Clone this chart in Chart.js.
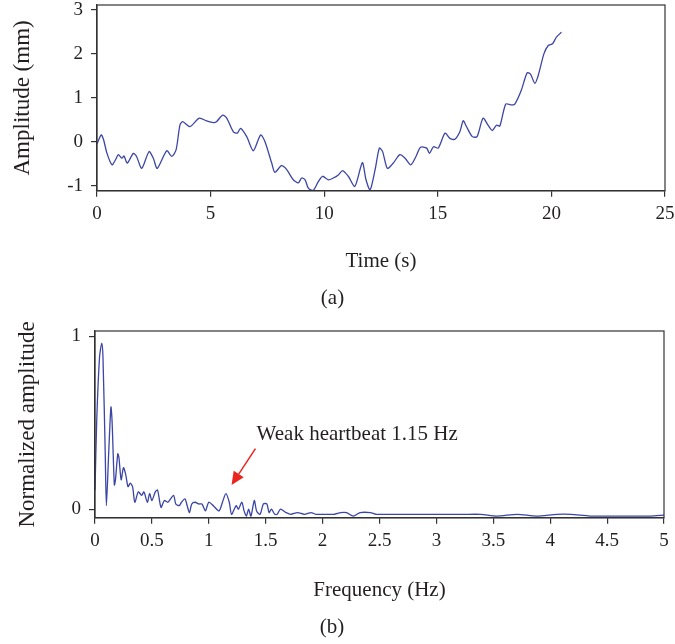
<!DOCTYPE html>
<html>
<head>
<meta charset="utf-8">
<script src="https://cdn.jsdelivr.net/npm/chart.js@4.4.0/dist/chart.umd.min.js"></script>
<style>
  html, body { margin: 0; padding: 0; background: #fff; }
  canvas { display: block; }
</style>
</head>
<body>
<canvas id="timeChart" width="675" height="316"></canvas>
<canvas id="freqChart" width="675" height="328"></canvas>
<script>
// (a) displacement over time
var timeS = [0, 0.19, 0.29, 0.44, 0.66, 0.81, 0.94, 1.09, 1.19, 1.33, 1.60, 1.74, 1.97, 2.29, 2.48, 2.65,
  3.07, 3.29, 3.48, 3.65, 3.77, 4.09, 4.50, 4.82, 5.12, 5.26, 5.53, 5.71, 6.00, 6.18, 6.32, 6.59,
  6.88, 7.20, 7.39, 7.69, 7.83, 8.12, 8.35, 8.64, 8.86, 9.01, 9.16, 9.30, 9.52, 9.74, 9.93, 10.18,
  10.40, 10.62, 10.81, 11.06, 11.35, 11.68, 11.84, 12.02, 12.24, 12.43, 12.57, 12.78, 13.04, 13.33,
  13.56, 13.81, 14.04, 14.24, 14.51, 14.63, 14.81, 15.02, 15.32, 15.53, 15.75, 15.97, 16.12, 16.26,
  16.52, 16.73, 16.99, 17.21, 17.40, 17.58, 17.73, 17.99, 18.24, 18.39, 18.68, 18.93, 19.08, 19.27,
  19.42, 19.67, 19.86, 20.05, 20.22, 20.44];
var amplitudeMm = [-0.04, 0.16, 0.05, -0.26, -0.52, -0.41, -0.29, -0.37, -0.32, -0.48, -0.26, -0.33, -0.60, -0.22, -0.37, -0.60,
  -0.20, -0.33, -0.18, 0.38, 0.46, 0.35, 0.54, 0.48, 0.44, 0.46, 0.61, 0.54, 0.23, 0.20, 0.31, 0.12,
  -0.20, 0.16, 0.01, -0.48, -0.69, -0.54, -0.63, -0.86, -0.93, -0.82, -0.86, -1.05, -1.10, -0.90, -0.78, -0.86,
  -0.82, -0.75, -0.65, -0.78, -1.01, -0.47, -0.86, -1.09, -0.63, -0.14, -0.22, -0.60, -0.48, -0.29,
  -0.37, -0.52, -0.33, -0.12, -0.14, -0.26, -0.11, -0.14, 0.20, 0.08, 0.06, 0.23, 0.48, 0.35,
  0.12, 0.12, 0.54, 0.38, 0.26, 0.38, 0.36, 0.86, 0.84, 0.86, 1.18, 1.57, 1.54, 1.33,
  1.51, 2.00, 2.19, 2.23, 2.38, 2.49];

// (b) spectrum
var freqHz = [0, 0.015, 0.04, 0.06, 0.07, 0.09, 0.10, 0.12, 0.14, 0.15, 0.17, 0.18, 0.20, 0.21, 0.23, 0.25,
  0.27, 0.29, 0.31, 0.33, 0.35, 0.38, 0.41, 0.43, 0.46, 0.48, 0.50, 0.53, 0.55, 0.58, 0.61, 0.64,
  0.69, 0.71, 0.74, 0.76, 0.79, 0.81, 0.83, 0.85, 0.88, 0.91, 0.94, 0.97, 1.00, 1.04, 1.09, 1.12,
  1.15, 1.18, 1.20, 1.24, 1.26, 1.29, 1.31, 1.33, 1.35, 1.37, 1.40, 1.42, 1.45, 1.48, 1.51, 1.53,
  1.55, 1.58, 1.60, 1.63, 1.68, 1.72, 1.78, 1.84, 1.90, 1.94, 1.99, 2.03, 2.10, 2.16, 2.21, 2.27,
  2.33, 2.42, 2.47, 2.59, 2.71, 2.83, 2.94, 3.06, 3.24, 3.39, 3.53, 3.71, 3.88, 4.06, 4.18, 4.35,
  4.53, 4.70, 4.88, 5.0];
var normAmp = [0.11, 0.51, 0.88, 0.96, 0.88, 0.32, 0.02, 0.32, 0.59, 0.51, 0.14, 0.17, 0.32, 0.30, 0.17, 0.24,
  0.20, 0.13, 0.15, 0.13, 0.04, 0.10, 0.08, 0.10, 0.04, 0.09, 0.05, 0.10, 0.11, 0.01, 0.05, 0.04,
  0.08, 0.03, 0.02, 0.04, 0.06, 0.02, -0.02, 0.03, 0.04, 0.03, 0.03, -0.01, 0.04, 0.02, -0.01, 0.04,
  0.09, 0.04, -0.03, 0.02, 0.00, 0.04, -0.01, -0.04, 0.00, -0.04, 0.05, -0.01, -0.03, 0.03, 0.03, -0.02,
  0.00, -0.03, -0.03, 0.00, -0.02, -0.03, -0.02, -0.03, -0.02, -0.03, -0.03, -0.03, -0.03, -0.02, -0.02, -0.04,
  -0.02, -0.02, -0.03, -0.03, -0.03, -0.03, -0.03, -0.03, -0.03, -0.03, -0.04, -0.03, -0.04, -0.03, -0.03, -0.04,
  -0.04, -0.04, -0.04, -0.035];

// annotation (data coords)
var noteText = "Weak heartbeat 1.15 Hz";
var noteAt = { x: 1.42, y: 0.43 };
var arrowFrom = { x: 1.41, y: 0.35 };
var arrowTo = { x: 1.20, y: 0.14 };

var INK = "#231f20";
var LINE = "#3b45a6";
Chart.defaults.font.family = "'Liberation Serif', 'Times New Roman', serif";
Chart.defaults.color = INK;

function toPoints(xs, ys) {
	var pts = [];
	for (var i = 0; i < xs.length; i++) pts.push({ x: xs[i], y: ys[i] });
	return pts;
}

// box round the plot area
var frameBox = {
	id: "frameBox",
	afterDatasetsDraw: function(chart) {
		var a = chart.chartArea, c = chart.ctx;
		c.save();
		c.strokeStyle = "#333";
		c.lineWidth = 1.2;
		c.strokeRect(a.left, a.top, a.right - a.left, a.bottom - a.top);
		c.restore();
	}
};

var heartNote = {
	id: "heartNote",
	afterDraw: function(chart) {
		var sx = chart.scales.x, sy = chart.scales.y, c = chart.ctx;
		c.save();
		c.font = "21px 'Liberation Serif', serif";
		c.fillStyle = INK;
		c.textAlign = "left";
		c.textBaseline = "middle";
		c.fillText(noteText, sx.getPixelForValue(noteAt.x), sy.getPixelForValue(noteAt.y));

		var x0 = sx.getPixelForValue(arrowFrom.x), y0 = sy.getPixelForValue(arrowFrom.y);
		var x1 = sx.getPixelForValue(arrowTo.x), y1 = sy.getPixelForValue(arrowTo.y);
		var ang = Math.atan2(y1 - y0, x1 - x0), hl = 13, hw = 6;
		var bx = x1 - hl * Math.cos(ang), by = y1 - hl * Math.sin(ang);
		c.strokeStyle = "#e8251f";
		c.fillStyle = "#e8251f";
		c.lineWidth = 1.5;
		c.beginPath(); c.moveTo(x0, y0); c.lineTo(bx, by); c.stroke();
		c.beginPath();
		c.moveTo(x1, y1);
		c.lineTo(bx + hw * Math.sin(ang), by - hw * Math.cos(ang));
		c.lineTo(bx - hw * Math.sin(ang), by + hw * Math.cos(ang));
		c.closePath(); c.fill();
		c.restore();
	}
};

function axisGrid() {
	return { drawOnChartArea: false, drawTicks: true, tickLength: 6, color: "#333", lineWidth: 1.2 };
}

// no extra room for overhanging tick labels, the layout padding handles it
function noOverhang(s) {
	s.paddingTop = 0; s.paddingBottom = 0; s.paddingLeft = 0; s.paddingRight = 0;
}

function makeChart(id, pts, o) {
	return new Chart(document.getElementById(id), {
		type: "line",
		data: {
			datasets: [{
				data: pts,
				borderColor: LINE,
				borderWidth: 1.3,
				pointRadius: 0,
				tension: 0.25,
				fill: false
			}]
		},
		options: {
			responsive: false,
			animation: false,
			layout: { padding: o.pad },
			plugins: {
				legend: { display: false },
				tooltip: { enabled: false },
				title: {
					display: true,
					position: "bottom",
					text: o.caption,
					font: { size: 21, weight: "normal" },
					color: INK,
					padding: o.capPad
				}
			},
			scales: {
				x: {
					type: "linear",
					min: o.xMin, max: o.xMax,
					grid: axisGrid(),
					border: { display: true, color: "#333", width: 1.2 },
					ticks: {
						stepSize: o.xStep, includeBounds: false, padding: 6, autoSkip: false, maxRotation: 0,
						font: { size: 19 }, color: INK,
						callback: function(v) { return String(+v.toFixed(2)); }
					},
					title: { display: true, text: o.xTitle, font: { size: 21 }, color: INK, padding: { top: 0, bottom: 0 } },
					afterFit: function(s) { s.height = o.xH; noOverhang(s); }
				},
				y: {
					min: o.yMin, max: o.yMax,
					grid: axisGrid(),
					border: { display: true, color: "#333", width: 1.2 },
					ticks: {
						stepSize: 1, includeBounds: false, padding: 8,
						font: { size: 19 }, color: INK,
						callback: function(v) { return String(v); }
					},
					title: { display: true, text: o.yTitle, font: { size: 23 }, color: INK, padding: { top: o.yTitlePad, bottom: 0 } },
					afterFit: function(s) { s.width = o.yW; noOverhang(s); }
				}
			}
		},
		plugins: o.plugins
	});
}

makeChart("timeChart", toPoints(timeS, amplitudeMm), {
	pad: { top: 5, right: 10, left: 0, bottom: 0 },
	caption: "(a)", capPad: { top: 12, bottom: 5 },
	xMin: 0, xMax: 25, xStep: 5, xTitle: "Time (s)", xH: 83,
	yMin: -1.11, yMax: 3.11, yTitle: "Amplitude (mm)", yTitlePad: 9, yW: 97,
	plugins: [frameBox]
});

makeChart("freqChart", toPoints(freqHz, normAmp), {
	pad: { top: 15, right: 11, left: 0, bottom: 0 },
	caption: "(b)", capPad: { top: 12, bottom: 4 },
	xMin: 0, xMax: 5, xStep: 0.5, xTitle: "Frequency (Hz)", xH: 85,
	yMin: -0.05, yMax: 1.03, yTitle: "Normalized amplitude", yTitlePad: 14, yW: 95,
	plugins: [frameBox, heartNote]
});
</script>
</body>
</html>
